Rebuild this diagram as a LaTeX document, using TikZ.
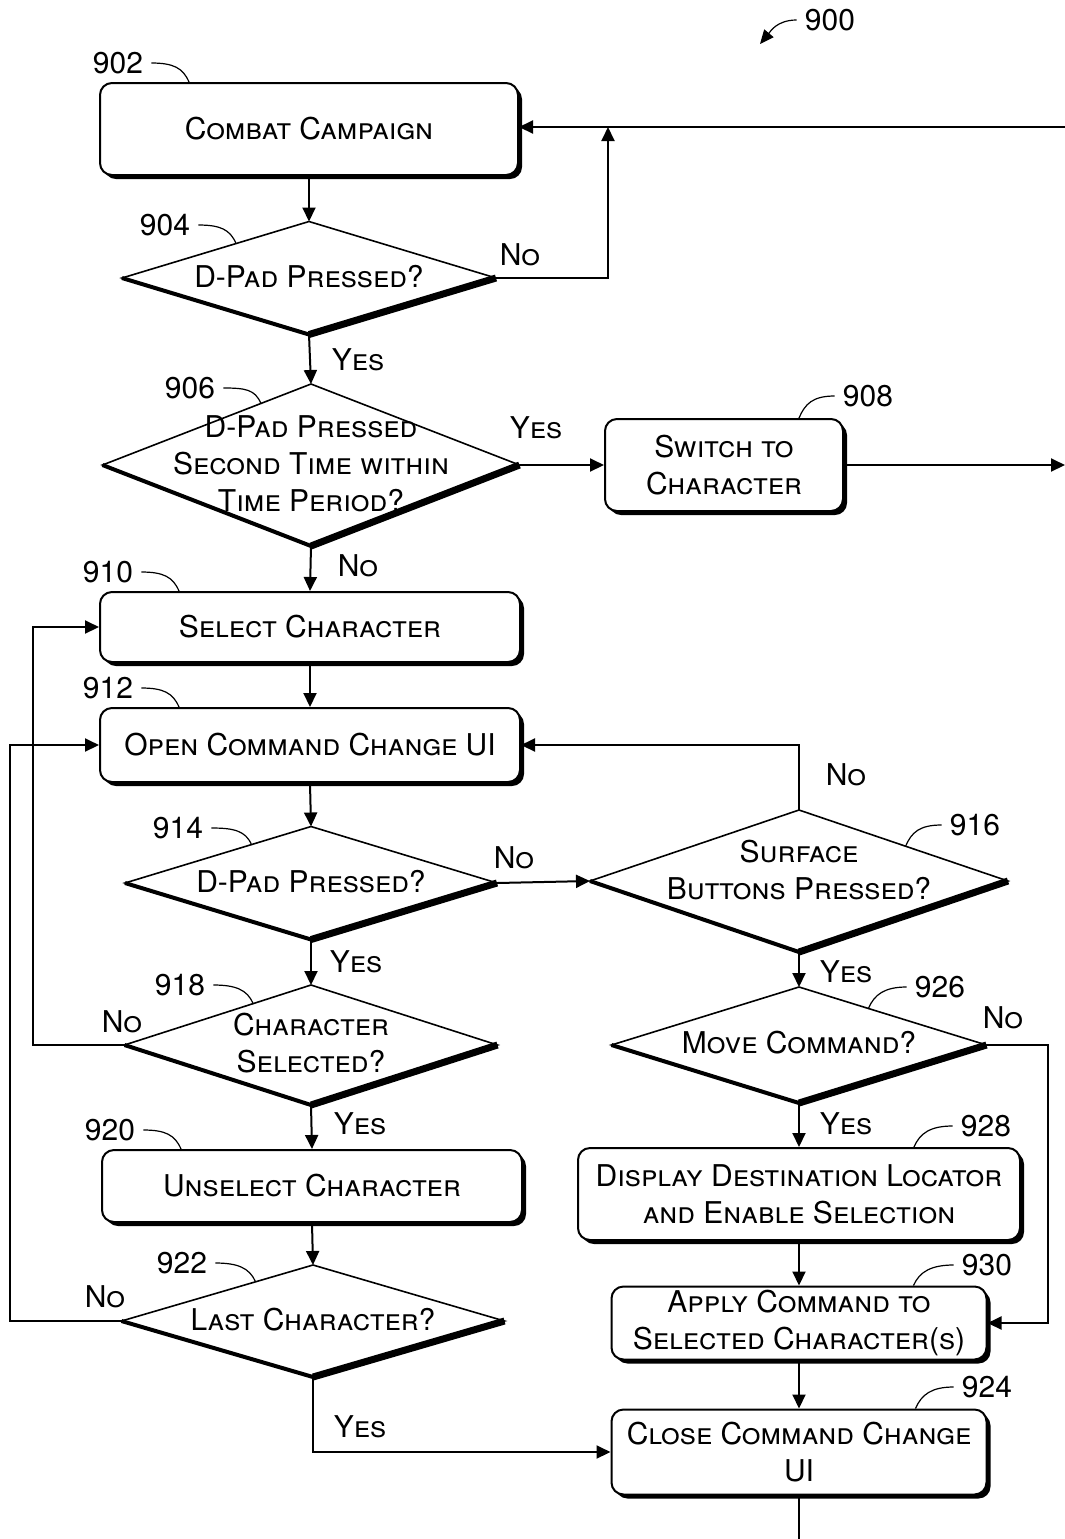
\documentclass[tikz,border=0pt]{standalone}
\usepackage{fontspec}
\setmainfont{TeX Gyre Heros}
\usetikzlibrary{shapes.geometric,arrows.meta,shadows,calc}

\tikzset{
    actbox/.style={
        rectangle,
        rounded corners=6pt,
        draw,
        line width=1pt,
        fill=white,
        align=center,
        inner sep=0pt,
        font=\fontsize{15}{18.5}\selectfont\scshape,
        drop shadow={shadow xshift=2pt,shadow yshift=-2pt,opacity=1,fill=black}
    },
    decide/.style={
        diamond,
        draw,
        line width=0.8pt,
        fill=white,
        inner sep=0pt,
        outer sep=0pt
    },
    dtext/.style={align=center,inner sep=0pt,font=\fontsize{15}{18.5}\selectfont\scshape},
    answer/.style={inner sep=1pt,font=\fontsize{15}{18.5}\selectfont\scshape},
    refnum/.style={inner sep=4pt,font=\fontsize{15}{18}\selectfont},
    flow/.style={line width=1pt,-{Triangle[length=7pt,width=6.5pt]}},
    leader/.style={line width=0.6pt}
}

% box: name, x, y, width, height, text
\newcommand{\actbox}[6] {
    \node[actbox,minimum width=#4*0.5pt,minimum height=#5*0.5pt] (#1) at (#2,#3) {#6};
}
% diamond: name, x, y, width, height, text, text offset
\newcommand{\decide}[7] {
    \node[decide,minimum width=#4*0.5pt,minimum height=#5*0.5pt] (#1) at (#2,#3) {};
    \draw[line width=2pt] (#1.west) -- (#1.south);
    \draw[line width=3.5pt] (#1.south) -- (#1.east);
    \node[dtext] (#1-text) at ($(#1)+(0,#7)$) {#6};
}
\newcommand{\callout}[4] {
    \node[refnum] (#1) at (#2,#3) {#4};
}

\begin{document}
\begin{tikzpicture}[x=0.5pt,y=-0.5pt]
    \useasboundingbox (0,0) rectangle (1065,1539);

    % left column
    \actbox{b902}{309}{129}{418}{92}{Combat Campaign}
    \decide{d904}{309}{278}{374}{113}{D-Pad Pressed?}{-1}
    \decide{d906}{311}{465}{417}{162}{D-Pad Pressed\\Second Time within\\Time Period?}{-1}
    \actbox{b910}{310}{627}{420}{70}{Select Character}
    \actbox{b912}{310}{745}{420}{74}{Open Command Change UI}
    \decide{d914}{311}{883}{372}{113}{D-Pad Pressed?}{-1}
    \decide{d918}{311}{1045}{373}{120}{Character\\Selected?}{-2}
    \actbox{b920}{312}{1186}{420}{72}{Unselect Character}
    \decide{d922}{313}{1321}{383}{112}{Last Character?}{-1}

    % right column
    \actbox{b908}{724}{465}{238}{92}{Switch to\\Character}
    \decide{d916}{799}{881}{418}{142}{Surface\\Buttons Pressed?}{-11}
    \decide{d926}{799}{1045}{375}{116}{Move Command?}{-2}
    \actbox{b928}{799}{1194}{442}{92}{Display Destination Locator\\and Enable Selection}
    \actbox{b930}{799}{1323}{375}{73}{Apply Command to\\Selected Character(s)}
    \actbox{b924}{799}{1452}{375}{85}{Close Command Change\\UI}

    % reference numbers
    \callout{n900}{830}{20}{900}
    \callout{n902}{118}{63}{902}
    \callout{n904}{165}{225}{904}
    \callout{n906}{190}{388}{906}
    \callout{n908}{868}{396}{908}
    \callout{n910}{108}{572}{910}
    \callout{n912}{108}{688}{912}
    \callout{n914}{178}{828}{914}
    \callout{n916}{975}{825}{916}
    \callout{n918}{180}{985}{918}
    \callout{n920}{110}{1130}{920}
    \callout{n922}{182}{1263}{922}
    \callout{n924}{987}{1387}{924}
    \callout{n926}{940}{987}{926}
    \callout{n928}{986}{1126}{928}
    \callout{n930}{987}{1265}{930}

    \coordinate (c900) at (760,44);
    \draw[leader,-{Triangle[length=7pt,width=6pt]}] (n900.west) .. controls +(-20,0) and +(10,-12) .. (c900);

    \draw[leader] (n902.east) .. controls +(22,0) and +(-6,-14) .. ($(b902.north west)+(90,0)$);
    \draw[leader] (n904.east) .. controls +(22,0) and +(-6,-14) .. ($(d904.west)!0.61!(d904.north)$);
    \draw[leader] (n906.east) .. controls +(22,0) and +(-6,-14) .. ($(d906.west)!0.76!(d906.north)$);
    \draw[leader] (n910.east) .. controls +(22,0) and +(-6,-14) .. ($(b910.north west)+(80,0)$);
    \draw[leader] (n912.east) .. controls +(22,0) and +(-6,-14) .. ($(b912.north west)+(80,0)$);
    \draw[leader] (n914.east) .. controls +(22,0) and +(-6,-14) .. ($(d914.west)!0.68!(d914.north)$);
    \draw[leader] (n918.east) .. controls +(22,0) and +(-6,-14) .. ($(d918.west)!0.69!(d918.north)$);
    \draw[leader] (n920.east) .. controls +(22,0) and +(-6,-14) .. ($(b920.north west)+(80,0)$);
    \draw[leader] (n922.east) .. controls +(22,0) and +(-6,-14) .. ($(d922.west)!0.70!(d922.north)$);
    \draw[leader] ($(b908.north west)+(195,0)$) .. controls +(6,-14) and +(-22,0) .. (n908.west);
    \draw[leader] ($(d916.north)!0.51!(d916.east)$) .. controls +(6,-14) and +(-22,0) .. (n916.west);
    \draw[leader] ($(d926.north)!0.37!(d926.east)$) .. controls +(6,-14) and +(-22,0) .. (n926.west);
    \draw[leader] ($(b928.north west)+(337,0)$) .. controls +(6,-14) and +(-22,0) .. (n928.west);
    \draw[leader] ($(b930.north west)+(303,0)$) .. controls +(6,-14) and +(-22,0) .. (n930.west);
    \draw[leader] ($(b924.north west)+(305,0)$) .. controls +(6,-14) and +(-22,0) .. (n924.west);

    % yes / no labels
    \node[answer] (a904no) at (520,255) {No};
    \node[answer] (a904yes) at (358,360) {Yes};
    \node[answer] (a906yes) at (536,428) {Yes};
    \node[answer] (a906no) at (358,566) {No};
    \node[answer] (a916no) at (846,775) {No};
    \node[answer] (a914no) at (514,858) {No};
    \node[answer] (a914yes) at (356,962) {Yes};
    \node[answer] (a916yes) at (846,972) {Yes};
    \node[answer] (a918no) at (122,1022) {No};
    \node[answer] (a926no) at (1003,1018) {No};
    \node[answer] (a918yes) at (360,1124) {Yes};
    \node[answer] (a926yes) at (846,1124) {Yes};
    \node[answer] (a922no) at (105,1297) {No};
    \node[answer] (a922yes) at (360,1427) {Yes};

    % connectors
    \coordinate (loopin) at (1065,127);
    \coordinate (j902) at (608,127);
    \coordinate (out908) at (1065,465);
    \coordinate (out924) at (799,1539);

    \draw[flow] (loopin) -- (loopin -| b902.east);
    \draw[flow] (d904.east) -| (j902);
    \draw[flow] (b902.south) -- (d904.north);
    \draw[flow] (d904.south) -- (d906.north);
    \draw[flow] (d906.east) -- (b908.west);
    \draw[flow] (b908.east) -- (out908);
    \draw[flow] (d906.south) -- (b910.north);
    \draw[flow] (b910.south) -- (b912.north);
    \draw[flow] (b912.south) -- (d914.north);
    \draw[flow] (d914.east) -- (d916.west);
    \draw[flow] (d916.north) |- (b912.east);
    \draw[flow] (d914.south) -- (d918.north);
    \draw[flow] (d918.west) -- ++(-92,0) |- (b910.west);
    \draw[flow] (d918.south) -- (b920.north);
    \draw[flow] (b920.south) -- (d922.north);
    \draw[flow] (d922.west) -- ++(-112,0) |- (b912.west);
    \draw[flow] (d922.south) |- (b924.west);
    \draw[flow] (d916.south) -- (d926.north);
    \draw[flow] (d926.south) -- (b928.north);
    \draw[flow] (d926.east) -- ++(61,0) |- (b930.east);
    \draw[flow] (b928.south) -- (b930.north);
    \draw[flow] (b930.south) -- (b924.north);
    \draw[line width=1pt] (b924.south) -- (out924);
\end{tikzpicture}
\end{document}
